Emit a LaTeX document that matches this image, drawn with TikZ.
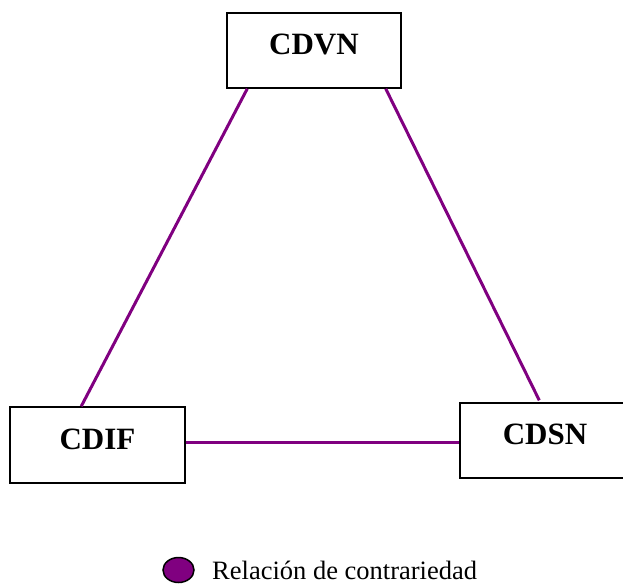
\documentclass[tikz,border=0pt]{standalone}
\usepackage{fontspec}
\setmainfont{Liberation Serif}
\usetikzlibrary{shapes.geometric}
\definecolor{relpurple}{RGB}{128,0,128}
\tikzstyle{concept} = [rectangle, minimum width=174pt, minimum height=75pt, inner sep=0pt, text centered, text height=21pt, text depth=13pt, draw=black, line width=1.5pt, font=\fontsize{31}{36}\selectfont\bfseries]
\tikzstyle{relation} = [draw=relpurple, line width=3pt]
\tikzstyle{legendmark} = [ellipse, minimum width=31pt, minimum height=25pt, inner sep=0pt, fill=relpurple, draw=black, line width=1.5pt]

\begin{document}
\begin{tikzpicture}[x=1pt, y=-1pt]

	\useasboundingbox (0,0) rectangle (623,584);

	\node (cdvn) [concept] at (314,50.5) {CDVN};
	\node (cdif) [concept, minimum width=175pt, minimum height=76pt] at (97.5,445) {CDIF};
	\node (cdsn) [concept, minimum width=170pt] at (545,440.5) {CDSN};
	\node (mark) [legendmark] at (178.5,570) {};
	\node (legend) [anchor=base west, inner sep=0pt, text depth=0pt, font=\fontsize{26.5}{30}\selectfont] at (212,579) {Relación de contrariedad};

	\draw [relation] ([xshift=21pt]cdvn.south west) -- ([xshift=72pt]cdif.north west);
	\draw [relation] ([xshift=-16pt]cdvn.south east) -- ([xshift=80pt, yshift=2pt]cdsn.north west);
	\draw [relation] ([yshift=3pt]cdif.east) -- ([yshift=-1.5pt]cdsn.west);

\end{tikzpicture}
\end{document}
